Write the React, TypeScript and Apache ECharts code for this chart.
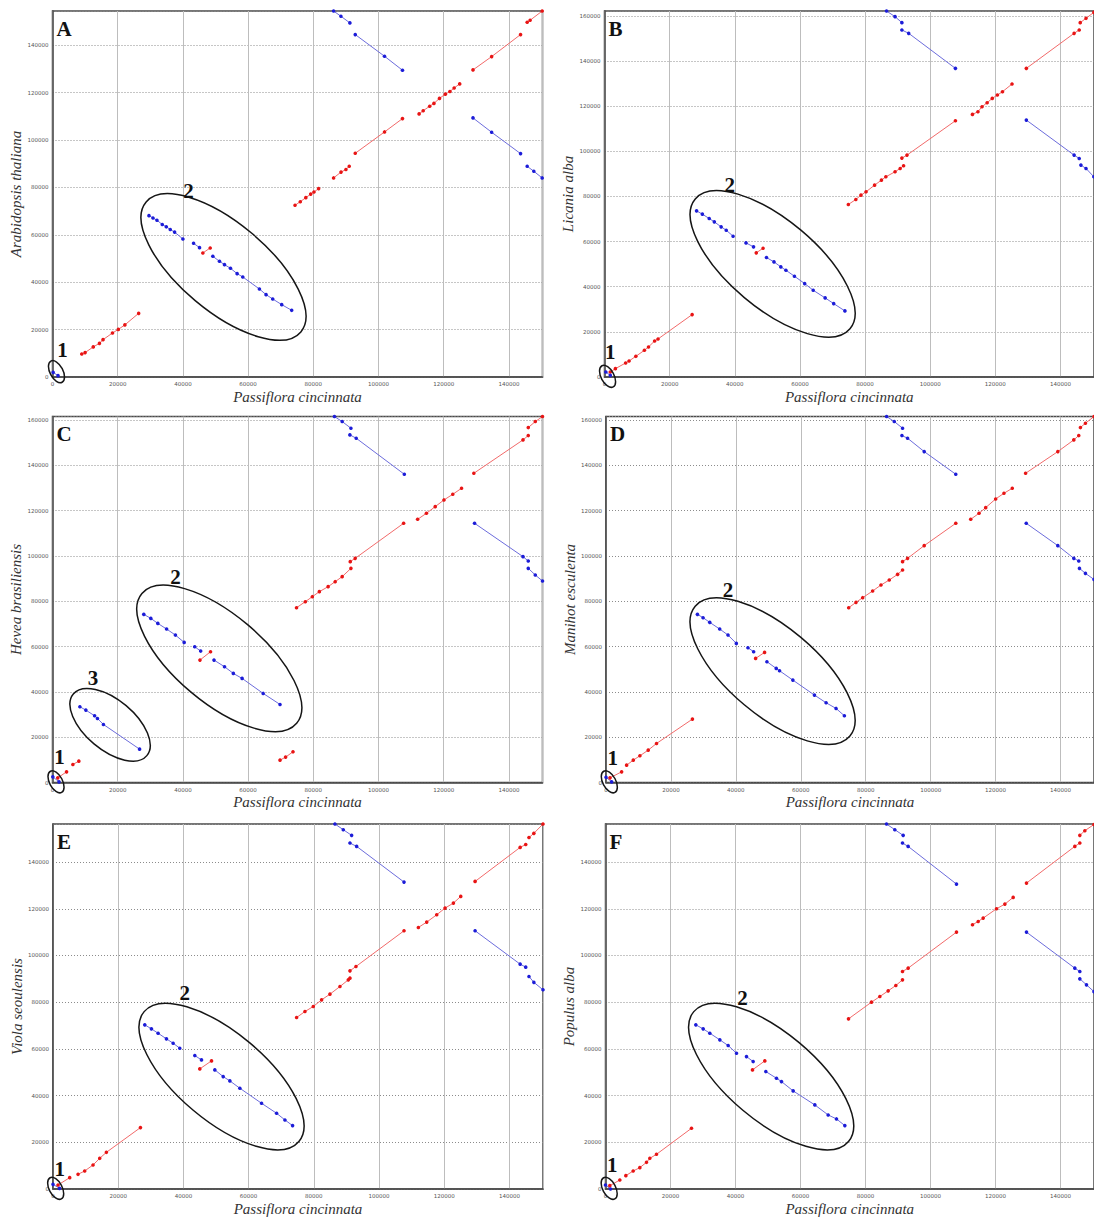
import React, { useEffect, useRef } from "react";
import * as echarts from "echarts";

// ---------- axes / labels ----------
const X_NAME = "Passiflora cincinnata";
const Y_NAMES = [
  "Arabidopsis thaliana",
  "Licania alba",
  "Hevea brasiliensis",
  "Manihot esculenta",
  "Viola seoulensis",
  "Populus alba",
];
const PANEL_LETTERS = ["A", "B", "C", "D", "E", "F"];
const X_MAX = 150300;
const Y_MAX = [154500, 162200, 161500, 161500, 156300, 156300];
const TICK_STEP = 20000;

// ---------- panel A ----------
const A_FWD = [
  [[8980, 9710], [10000, 10300], [12500, 12700], [14400, 14200], [15500, 15760], [18400, 18580], [20200, 20100], [22200, 22000], [26430, 26880]],
  [[46120, 52360], [48370, 54470]],
  [[74390, 72490], [76000, 74000], [77700, 75700], [79200, 77200], [80200, 78100], [81630, 79520]],
  [[86220, 84030], [88500, 86500], [90000, 87600], [91020, 88950]],
  [[92860, 94440], [101850, 103450], [107350, 109080]],
  [[112450, 111050], [113700, 112400], [115700, 114300], [117000, 115500], [118700, 117600], [120500, 119400], [121900, 120500], [123200, 122000], [124900, 123720]],
  [[128980, 129630], [134700, 135260], [143570, 144550]],
  [[145600, 149760], [146500, 150600], [150200, 154480]],
];
const A_REV = [
  [[200, 1970], [1700, 560]],
  [[29590, 68120], [30820, 67140], [32040, 66150], [33670, 64390], [34900, 63400], [36120, 62280], [37450, 61160], [40000, 58270]],
  [[43270, 56440], [45100, 54610]],
  [[49180, 50950], [51220, 48840], [52760, 47430], [54590, 45890], [56630, 43630], [58370, 42220], [63470, 37150], [65510, 34760], [67550, 32930], [70310, 30540], [73370, 28150]],
  [[86220, 154480], [88470, 152290], [91220, 149470]],
  [[92860, 144550], [101840, 135400], [107350, 129490]],
  [[128980, 109360], [134700, 103310], [143570, 94300]],
  [[145600, 88950], [147640, 86840], [150200, 84030]],
];
const A_MARKS = [
  { id: "1", center: [1220, 2250], label: [3060, 11540] },
  { id: "2", center: [52450, 46450], label: [41730, 78400] },
];

// ---------- panel B ----------
const B_FWD = [
  [[1780, 2220], [3350, 3700], [6490, 6210], [7540, 7100], [9630, 9170], [12250, 11830], [13510, 13310], [15390, 15970], [16440, 16860], [26910, 27650]],
  [[46600, 55010], [48690, 57080]],
  [[74870, 76450], [77170, 78670], [78740, 80590], [80310, 82070], [82930, 85030], [85030, 87240], [86390, 88720], [89210, 90940], [90780, 92420], [91830, 93600]],
  [[91310, 97000], [92880, 98330], [107750, 113560]],
  [[112980, 116370], [114660, 117550], [115910, 119770], [117480, 121550], [119060, 123470], [120630, 124950], [122200, 126430], [125130, 129830]],
  [[129530, 136780], [144190, 152310], [145760, 153790]],
  [[146070, 157040], [147850, 158960], [150260, 161600]],
];
const B_REV = [
  [[420, 2220], [1780, 740]],
  [[28270, 73640], [30050, 72160], [32150, 70240], [33720, 68760], [35810, 66540], [37380, 65060], [39480, 62400]],
  [[43450, 59440], [45760, 57670]],
  [[49740, 52940], [52040, 51010], [54140, 48800], [55710, 47320], [58320, 44660], [61460, 41400], [64080, 38450], [67750, 35050], [70370, 32530], [73820, 29280]],
  [[86600, 162200], [89210, 159700], [91310, 157040]],
  [[91310, 153790], [93400, 152310], [107750, 136780]],
  [[129530, 113860], [144190, 98330], [145760, 96850]],
  [[146280, 93900], [147850, 92420], [150260, 88720]],
];
const B_MARKS = [
  { id: "1", center: [940, 300], label: [1780, 11090] },
  { id: "2", center: [51620, 50130], label: [38430, 85020] },
];

// ---------- panel C ----------
const C_FWD = [
  [[1620, 2060], [4310, 4710]],
  [[6250, 7950], [8080, 9420]],
  [[69790, 9860], [71500, 11200], [73770, 13540]],
  [[45230, 54020], [48470, 57700]],
  [[74850, 77130], [77540, 79780], [79700, 81990], [81850, 84200], [84540, 86410], [86700, 88610], [88850, 90820], [91540, 94500]],
  [[91330, 97450], [92840, 98920], [107700, 114380]],
  [[112000, 116140], [114700, 118790], [117390, 121730], [120080, 124680], [122780, 127180], [125470, 129830]],
  [[129240, 136450], [144320, 151170], [145930, 153090]],
  [[145930, 156620], [148090, 159270], [150300, 161480]],
];
const C_REV = [
  [[100, 2500], [2000, 300]],
  [[8400, 33410], [10230, 31940], [12920, 29440], [13790, 28260], [15620, 25610], [26710, 14720]],
  [[28000, 74190], [30160, 72420], [32310, 70210], [35000, 67710], [37700, 65060], [40390, 61820]],
  [[43620, 59910], [45450, 58000]],
  [[49540, 54020], [52770, 51080], [55470, 48130], [58160, 45930], [64620, 39300], [69790, 34440]],
  [[86480, 161480], [88850, 159270], [91540, 156330]],
  [[91220, 153380], [93160, 151910], [107920, 136010]],
  [[129460, 114380], [144320, 99650], [145930, 97740]],
  [[145930, 94500], [148090, 91560], [150300, 88910]],
];
const C_MARKS = [
  { id: "1", center: [1080, 300], label: [2150, 11330] },
  { id: "2", center: [51160, 54760], label: [37700, 90820] },
  { id: "3", center: [17660, 25470], label: [12390, 45930] },
];

// ---------- panel D ----------
const D_FWD = [
  [[1230, 2060], [4810, 4710]],
  [[6350, 7650], [8400, 9860], [10440, 11780], [13000, 14280], [15560, 17220], [26620, 27970]],
  [[46080, 54760], [48840, 57410]],
  [[74750, 77130], [77000, 79490], [79050, 81550], [82120, 84490], [84690, 87140], [87240, 89350], [89810, 91850], [91340, 93770]],
  [[91340, 97450], [92880, 98920], [98000, 104510], [107730, 114380]],
  [[112330, 116140], [114890, 118790], [116940, 121290], [120010, 125120], [122570, 127620], [125130, 129830]],
  [[129230, 136450], [139160, 146020], [144080, 151170], [145610, 153090]],
  [[146120, 156620], [147660, 158540], [150300, 161480]],
];
const D_REV = [
  [[0, 2300], [1740, 300]],
  [[28160, 74190], [29900, 72720], [31950, 70660], [35020, 67710], [37580, 65060], [40140, 61380]],
  [[43720, 59470], [45470, 57700]],
  [[49560, 53290], [52430, 50340], [53450, 49310], [57550, 45190], [64200, 38570], [67790, 35180], [70860, 32680], [73420, 29440]],
  [[86430, 161480], [88780, 159270], [91340, 156330]],
  [[91140, 153090], [92880, 151910], [98000, 146020], [107730, 136010]],
  [[129430, 114380], [139160, 104510], [144080, 98920], [145610, 97740]],
  [[145820, 94500], [147660, 92290], [150300, 89600]],
];
const D_MARKS = [
  { id: "1", center: [1020, 300], label: [2050, 10890] },
  { id: "2", center: [51300, 49160], label: [37580, 84930] },
];

// ---------- panel E ----------
const E_FWD = [
  [[1540, 1710], [5120, 4860]],
  [[7680, 6290], [9720, 7710], [12280, 10290], [14330, 13140], [16380, 15710], [26820, 26290]],
  [[45030, 51430], [48620, 54860]],
  [[74720, 73430], [77280, 76000], [79830, 78140], [82390, 81000], [84950, 83430], [88020, 86710], [90580, 89570], [91090, 90290]],
  [[91090, 93430], [92930, 95290], [107670, 110570]],
  [[112070, 112000], [114630, 114290], [117700, 117430], [120260, 120290], [122820, 122430], [125070, 125290]],
  [[129470, 131710], [143290, 146290], [145000, 147500]],
  [[146000, 150500], [147500, 152300], [150300, 156300]],
];
const E_REV = [
  [[0, 2000], [2000, 290]],
  [[28150, 70290], [30190, 68570], [32240, 66710], [34800, 64290], [36850, 62430], [38890, 60290]],
  [[43500, 57140], [45550, 55290]],
  [[49640, 51000], [52200, 48140], [54250, 46290], [57320, 43140], [63970, 36710], [68580, 32430], [71140, 29570], [73490, 27140]],
  [[86480, 156290], [89040, 153860], [91600, 151430]],
  [[91090, 148140], [93140, 146710], [107670, 131430]],
  [[129470, 110570], [143290, 96290], [145000, 95000]],
  [[146000, 91000], [147500, 88500], [150300, 85300]],
];
const E_MARKS = [
  { id: "1", center: [820, 290], label: [2050, 8570] },
  { id: "2", center: [51690, 48140], label: [40430, 83860] },
];

// ---------- panel F ----------
const F_FWD = [
  [[1330, 1430], [4410, 3860]],
  [[6260, 5710], [8510, 7710], [10560, 9140], [12620, 11430], [13640, 13140], [15690, 14860], [26460, 26000]],
  [[45230, 51000], [49020, 54860]],
  [[74770, 72860], [81840, 80000], [84410, 82430], [86970, 84860], [89330, 87140], [91380, 89570]],
  [[91380, 93140], [93120, 94570], [107990, 110000]],
  [[112920, 113140], [114660, 114570], [116200, 116000], [120310, 120000], [122880, 122000], [125430, 124860]],
  [[129530, 131000], [144400, 146710], [145940, 148140]],
  [[145940, 151430], [147480, 153430], [150300, 156100]],
];
const F_REV = [
  [[0, 1700], [1540, 0]],
  [[27790, 70290], [30050, 68570], [32100, 66710], [35180, 63860], [37740, 61430], [40310, 58140]],
  [[43380, 56710], [45430, 54570]],
  [[49330, 50290], [52610, 47430], [54150, 46000], [57740, 42000], [64410, 36000], [68510, 31710], [71070, 30000], [73640, 27140]],
  [[86460, 156290], [89020, 153860], [91590, 151430]],
  [[91380, 148140], [93120, 146710], [107990, 130570]],
  [[129530, 110000], [144400, 94570], [145940, 93140]],
  [[145940, 90000], [147990, 87430], [150300, 84500]],
];
const F_MARKS = [
  { id: "1", center: [1130, 290], label: [2050, 10290] },
  { id: "2", center: [50970, 48140], label: [42150, 82000] },
];

const FWD = [A_FWD, B_FWD, C_FWD, D_FWD, E_FWD, F_FWD];
const REV = [A_REV, B_REV, C_REV, D_REV, E_REV, F_REV];
const MARKS = [A_MARKS, B_MARKS, C_MARKS, D_MARKS, E_MARKS, F_MARKS];

// ---------- layout & style (not data) ----------
const GRID_POS = [
  { left: 52.5, top: 11, height: 366 },
  { left: 604.5, top: 11, height: 366 },
  { left: 52.5, top: 416.5, height: 366 },
  { left: 606, top: 416.5, height: 366 },
  { left: 53, top: 824, height: 365 },
  { left: 605.5, top: 824, height: 365 },
];
const GRID_W = 490;
const ELLIPSE_SHAPE: Record<string, { rx: number; ry: number; angle: number }> = {
  "1": { rx: 12, ry: 6.5, angle: 62 },
  "2": { rx: 101, ry: 44, angle: 40 },
  "3": { rx: 48, ry: 25, angle: 40 },
};
const RED_LINE = "#f26a6a";
const RED_DOT = "#e81414";
const BLUE_LINE = "#6c6cdc";
const BLUE_DOT = "#1c1cd8";
const FRAME = "#4a4a4a";
const SERIF = '"Liberation Serif", "DejaVu Serif", serif';

function buildOption() {
  const grid: any[] = [];
  const xAxis: any[] = [];
  const yAxis: any[] = [];
  const series: any[] = [];
  const graphic: any[] = [];
  const plainNumber = (v: number) => String(v);

  GRID_POS.forEach((g, i) => {
    grid.push({
      left: g.left,
      top: g.top,
      width: GRID_W,
      height: g.height,
      show: true,
      borderColor: FRAME,
      borderWidth: 1.5,
      backgroundColor: "#ffffff",
    });
    xAxis.push({
      type: "value",
      gridIndex: i,
      min: 0,
      max: X_MAX,
      interval: TICK_STEP,
      name: X_NAME,
      nameLocation: "middle",
      nameGap: 12,
      nameTextStyle: { fontFamily: SERIF, fontStyle: "italic", fontSize: 15, color: "#333" },
      axisLine: { show: true, onZero: false, lineStyle: { color: FRAME, width: 1.5 } },
      axisTick: { show: false },
      axisLabel: { fontSize: 5.5, color: "#555", margin: 4, showMaxLabel: false, fontFamily: "DejaVu Sans", formatter: plainNumber },
      splitLine: { show: true, lineStyle: { color: "#bdbdbd", width: 1, type: "solid" } },
    });
    yAxis.push({
      type: "value",
      gridIndex: i,
      min: 0,
      max: Y_MAX[i],
      interval: TICK_STEP,
      name: Y_NAMES[i],
      nameLocation: "middle",
      nameGap: 23,
      nameTextStyle: { fontFamily: SERIF, fontStyle: "italic", fontSize: 15, color: "#333" },
      axisLine: { show: true, onZero: false, lineStyle: { color: FRAME, width: 1.5 } },
      axisTick: { show: false },
      axisLabel: { fontSize: 5.5, color: "#555", margin: 4, showMaxLabel: false, fontFamily: "DejaVu Sans", formatter: plainNumber },
      splitLine: { show: true, lineStyle: { color: "#8c8c8c", width: 1, type: [1, 2] } },
    });

    const addSegs = (segs: number[][][], line: string, dot: string) => {
      segs.forEach((seg) => {
        series.push({
          type: "line",
          xAxisIndex: i,
          yAxisIndex: i,
          data: seg,
          symbol: "circle",
          symbolSize: 3.6,
          showSymbol: true,
          showAllSymbol: true,
          lineStyle: { color: line, width: 1 },
          itemStyle: { color: dot },
          silent: true,
          z: 3,
        });
      });
    };
    addSegs(FWD[i], RED_LINE, RED_DOT);
    addSegs(REV[i], BLUE_LINE, BLUE_DOT);

    const marks = MARKS[i];
    series.push({
      type: "custom",
      xAxisIndex: i,
      yAxisIndex: i,
      coordinateSystem: "cartesian2d",
      clip: false,
      silent: true,
      z: 5,
      data: marks.map((m) => m.center),
      renderItem: (params: any, api: any) => {
        const m = marks[params.dataIndex];
        const s = ELLIPSE_SHAPE[m.id];
        const c = api.coord([api.value(0), api.value(1)]);
        return {
          type: "ellipse",
          x: c[0],
          y: c[1],
          rotation: (-s.angle * Math.PI) / 180,
          shape: { cx: 0, cy: 0, rx: s.rx, ry: s.ry },
          style: { fill: "none", stroke: "#151515", lineWidth: 1.5 },
        };
      },
    });
    series.push({
      type: "custom",
      xAxisIndex: i,
      yAxisIndex: i,
      coordinateSystem: "cartesian2d",
      clip: false,
      silent: true,
      z: 6,
      data: marks.map((m) => m.label),
      renderItem: (params: any, api: any) => {
        const m = marks[params.dataIndex];
        const c = api.coord([api.value(0), api.value(1)]);
        return {
          type: "text",
          x: c[0],
          y: c[1],
          style: {
            text: m.id,
            fill: "#111",
            font: `bold 21px ${SERIF}`,
            align: "center",
            verticalAlign: "middle",
          },
        };
      },
    });

    graphic.push({
      type: "text",
      left: g.left + 4,
      top: g.top + 7,
      z: 10,
      style: { text: PANEL_LETTERS[i], fill: "#111", font: `bold 21px ${SERIF}` },
    });
  });

  return {
    animation: false,
    backgroundColor: "#ffffff",
    grid,
    xAxis,
    yAxis,
    series,
    graphic,
  };
}

export default function App() {
  const ref = useRef<HTMLDivElement>(null);
  useEffect(() => {
    if (!ref.current) return;
    const chart = echarts.init(ref.current, undefined, { renderer: "svg" });
    chart.setOption(buildOption() as any);
    return () => chart.dispose();
  }, []);
  return (
    <div
      ref={ref}
      style={{ position: "absolute", left: 0, top: 0, width: 1094, height: 1221, background: "#fff" }}
    />
  );
}
